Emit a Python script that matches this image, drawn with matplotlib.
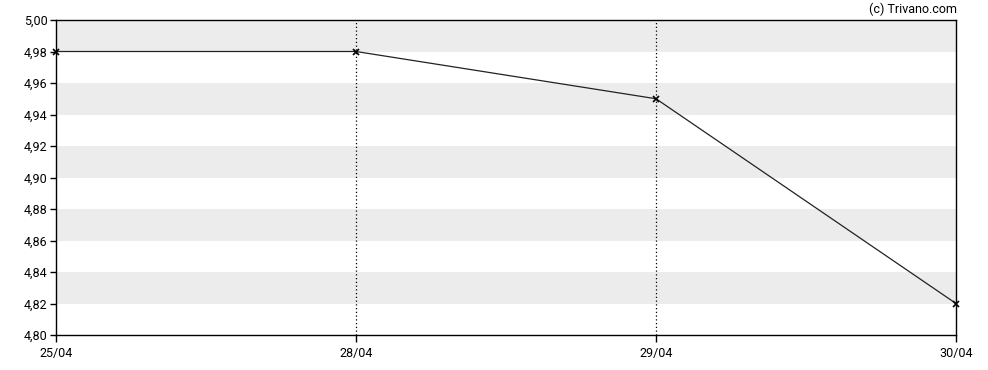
import matplotlib
matplotlib.use("Agg")
import matplotlib.pyplot as plt
from matplotlib.ticker import FuncFormatter

plt.rcParams['font.family'] = ['Roboto', 'DejaVu Sans']

dates = ["25/04", "28/04", "29/04", "30/04"]
prices = [4.98, 4.98, 4.95, 4.82]
y_ticks = [4.80, 4.82, 4.84, 4.86, 4.88, 4.90, 4.92, 4.94, 4.96, 4.98, 5.00]

fig = plt.figure(figsize=(9.88, 3.70), dpi=100)
ax = fig.add_axes([56 / 988, 1 - 335 / 370, 900 / 988, 315 / 370])

x = list(range(len(dates)))

# alternating grey bands
for i in range(len(y_ticks) - 1):
    if i % 2 == 1:
        ax.axhspan(y_ticks[i], y_ticks[i + 1], color="#ececec", lw=0, zorder=0)

# dotted vertical lines at inner dates
for xi in x[1:-1]:
    ax.axvline(xi, color="black", ls=(0, (1, 2)), lw=0.9, zorder=1)

ax.plot(x, prices, color="#222222", lw=0.9, marker="x", ms=4, mew=1.2,
        mec="black", zorder=3, clip_on=False)

ax.set_xlim(x[0], x[-1])
ax.set_ylim(4.80, 5.00)
ax.set_xticks(x)
ax.set_xticklabels(dates)
ax.set_yticks(y_ticks)
ax.yaxis.set_major_formatter(FuncFormatter(lambda v, p: f"{v:.2f}".replace(".", ",")))
ax.tick_params(axis="both", direction="out", length=4, width=1, labelsize=9,
               colors="black", pad=2)
ax.tick_params(axis="x", length=5, pad=4)

for s in ax.spines.values():
    s.set_color("black")
    s.set_linewidth(1)

fig.text(957 / 988, 1 - 9 / 370, "(c) Trivano.com", ha="right", va="center", fontsize=9)

fig.savefig("out.png", dpi=100)
